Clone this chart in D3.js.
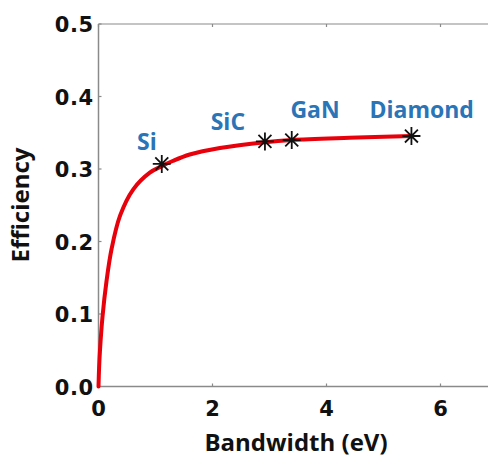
<!DOCTYPE html>
<html>
<head>
<meta charset="utf-8">
<script src="https://cdn.jsdelivr.net/npm/d3@7"></script>
<style>
  body { margin: 0; background: #fff; }
  svg { display: block; }
</style>
</head>
<body>
<svg width="488" height="458"></svg>
<script>
// curve (bandwidth eV, efficiency)
var curveX = [0, 0.01, 0.026, 0.07, 0.14, 0.23, 0.38, 0.61, 0.90, 1.11, 1.3, 1.6, 2.13, 2.92, 3.39, 4.4, 5.49];
var curveY = [0, 0.025, 0.05, 0.096, 0.145, 0.19, 0.236, 0.272, 0.295, 0.304, 0.311, 0.320, 0.329, 0.337, 0.340, 0.343, 0.3455];

// marked materials
var materials = ["Si", "SiC", "GaN", "Diamond"];
var matX = [1.11, 2.92, 3.39, 5.49];
var matY = [0.307, 0.338, 0.340, 0.3455];

var xTicks = [0, 2, 4, 6];
var yTicks = [0, 0.1, 0.2, 0.3, 0.4, 0.5];

var svg = d3.select("svg");

var x = d3.scaleLinear().domain([0, 7]).range([98.5, 497.5]);
var y = d3.scaleLinear().domain([0, 0.5]).range([386.5, 24]);

var axisColor = "#8a8a8a";
var tickFont = "'DejaVu Sans', Verdana, sans-serif";
var titleFont = "'Open Sans', 'Noto Sans', sans-serif";

// box lines (left, bottom, top)
var gAx = svg.append("g");
gAx.append("line")
    .attr("x1", x(0)).attr("x2", x(0))
    .attr("y1", y(0.5)).attr("y2", y(0))
    .attr("stroke", axisColor).attr("stroke-width", 1.5);
gAx.append("line")
    .attr("x1", x(0)).attr("x2", x(7))
    .attr("y1", y(0)).attr("y2", y(0))
    .attr("stroke", axisColor).attr("stroke-width", 1.5);
gAx.append("line")
    .attr("x1", x(0)).attr("x2", x(7))
    .attr("y1", y(0.5)).attr("y2", y(0.5))
    .attr("stroke", "#b0b0b0").attr("stroke-width", 1.5);

// small tick marks
gAx.selectAll(".ty").data(yTicks).enter().append("line")
    .attr("x1", x(0)).attr("x2", x(0) + 3)
    .attr("y1", function (d) { return y(d); })
    .attr("y2", function (d) { return y(d); })
    .attr("stroke", axisColor).attr("stroke-width", 1.2);
gAx.selectAll(".tx").data(xTicks).enter().append("line")
    .attr("x1", function (d) { return x(d); })
    .attr("x2", function (d) { return x(d); })
    .attr("y1", y(0)).attr("y2", y(0) - 3)
    .attr("stroke", axisColor).attr("stroke-width", 1.2);
gAx.selectAll(".txt").data(xTicks).enter().append("line")
    .attr("x1", function (d) { return x(d); })
    .attr("x2", function (d) { return x(d); })
    .attr("y1", y(0.5)).attr("y2", y(0.5) + 3)
    .attr("stroke", axisColor).attr("stroke-width", 1.2);

// tick labels
svg.append("g").selectAll("text").data(yTicks).enter().append("text")
    .attr("x", x(0) - 5)
    .attr("y", function (d) { return y(d) + 8; })
    .attr("text-anchor", "end")
    .style("font-family", tickFont)
    .style("font-weight", "bold")
    .style("font-size", "21px")
    .style("letter-spacing", "0.5px")
    .attr("fill", "#111")
    .text(function (d) { return d.toFixed(1); });

svg.append("g").selectAll("text").data(xTicks).enter().append("text")
    .attr("x", function (d) { return x(d); })
    .attr("y", 416)
    .attr("text-anchor", "middle")
    .style("font-family", tickFont)
    .style("font-weight", "bold")
    .style("font-size", "21px")
    .attr("fill", "#111")
    .text(function (d) { return d; });

// axis titles
svg.append("text")
    .attr("x", 296).attr("y", 451)
    .attr("text-anchor", "middle")
    .style("font-family", titleFont)
    .style("font-weight", "bold")
    .style("font-size", "24px")
    .attr("fill", "#111")
    .text("Bandwidth (eV)");

svg.append("text")
    .attr("transform", "translate(29,205) rotate(-90)")
    .attr("text-anchor", "middle")
    .style("font-family", titleFont)
    .style("font-weight", "bold")
    .style("font-size", "24px")
    .attr("fill", "#111")
    .text("Efficiency");

// red curve
var pts = curveX.map(function (d, i) { return [d, curveY[i]]; });
var line = d3.line()
    .x(function (d) { return x(d[0]); })
    .y(function (d) { return y(d[1]); })
    .curve(d3.curveCatmullRom.alpha(0.5));

svg.append("path")
    .datum(pts)
    .attr("d", line)
    .attr("fill", "none")
    .attr("stroke", "#e8000b")
    .attr("stroke-width", 4)
    .attr("stroke-linecap", "round");

// asterisk markers (plus + cross, 8 arms)
var armR = 9;
var markerPath = function () {
    var p = d3.path();
    var d = armR * 0.72;
    p.moveTo(0, -armR); p.lineTo(0, armR);
    p.moveTo(-armR, 0); p.lineTo(armR, 0);
    p.moveTo(-d, -d); p.lineTo(d, d);
    p.moveTo(-d, d); p.lineTo(d, -d);
    return p.toString();
};
svg.append("g").selectAll("path").data(matX).enter().append("path")
    .attr("transform", function (d, i) {
        return "translate(" + x(d) + "," + y(matY[i]) + ")";
    })
    .attr("d", markerPath)
    .attr("fill", "none")
    .attr("stroke", "#111")
    .attr("stroke-width", 1.8);

// material labels
var labelX = [0.85, 2.27, 3.80, 5.67];
var labelY = [0.326, 0.354, 0.370, 0.370];
svg.append("g").selectAll("text").data(materials).enter().append("text")
    .attr("x", function (d, i) { return x(labelX[i]); })
    .attr("y", function (d, i) { return y(labelY[i]); })
    .attr("text-anchor", "middle")
    .style("font-family", titleFont)
    .style("font-weight", "bold")
    .style("font-size", "23px")
    .attr("fill", "#2a74b8")
    .text(function (d) { return d; });
</script>
</body>
</html>
